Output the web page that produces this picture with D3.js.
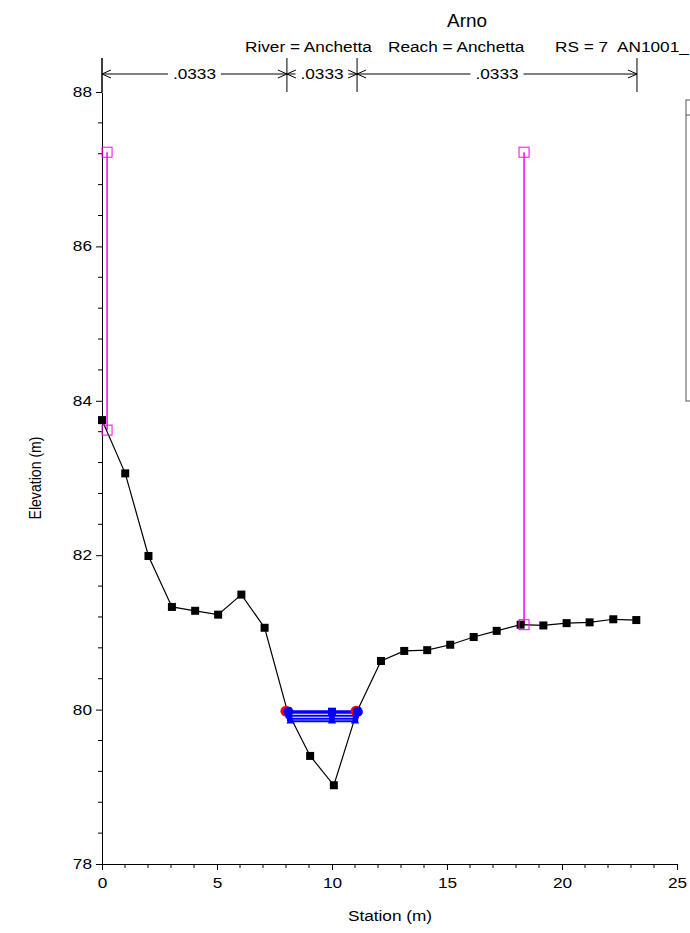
<!DOCTYPE html>
<html><head><meta charset="utf-8">
<script src="https://cdn.jsdelivr.net/npm/d3@7"></script>
<style>body{margin:0;background:#fff}svg{display:block;font-family:"Liberation Sans",Arial,sans-serif}</style>
</head><body>
<script>
const title = "Arno";
const subtitleParts = ["River = Anchetta", "Reach = Anchetta", "RS = 7", "AN1001_"];
const groundX = [0, 1.01, 2.02, 3.04, 4.05, 5.05, 6.06, 7.07, 8.06, 9.05, 10.08, 11.09, 12.13, 13.14, 14.14, 15.14, 16.16, 17.16, 18.2, 19.19, 20.2, 21.2, 22.23, 23.23];
const groundY = [83.75, 83.06, 81.99, 81.33, 81.28, 81.23, 81.49, 81.06, 79.98, 79.40, 79.02, 79.98, 80.63, 80.76, 80.77, 80.84, 80.94, 81.02, 81.10, 81.09, 81.12, 81.13, 81.17, 81.16];
const leveeX = [0.22, 18.35];
const leveeTop = [87.22, 87.22];
const leveeBottom = [83.62, 81.10];
const nBreaks = [0, 8.04, 11.09, 23.26];
const nValues = [".0333", ".0333", ".0333"];
const wsLevels = [79.98, 79.96, 79.92, 79.88, 79.85];
const wsLeft = [8.04, 8.06, 8.1, 8.16, 8.2];
const wsRight = [11.09, 11.08, 11.05, 11.02, 11.0];
const wsMid = [10.0, 10.0, 10.0, 10.0, 10.0];
const xTicks = [0, 5, 10, 15, 20, 25];
const yTicks = [78, 80, 82, 84, 86, 88];

const W = 690, H = 933, SX = 1.23;
const svg = d3.select("body").append("svg").attr("width", W).attr("height", H);
const x = d3.scaleLinear().domain([0, 25]).range([102, 677]);
const y = d3.scaleLinear().domain([78, 88]).range([864, 92]);

function htext(px, py, str, size, anchor, sx) {
  svg.append("text").attr("transform", `translate(${px},${py}) scale(${sx || SX},1)`)
    .attr("text-anchor", anchor || "start").attr("font-size", size).text(str);
}

// titles
htext(467, 27, title, 17.5, "middle", 1.08);
const subX = [245, 388, 555, 617];
subtitleParts.forEach((s, i) => htext(subX[i], 52, s, 14, "start"));

// axes
const yAxis = d3.axisLeft(y).tickValues(yTicks).tickFormat(d3.format("d")).tickSize(6).tickSizeOuter(0);
const gy = svg.append("g").attr("transform", "translate(102,0)").call(yAxis);
const yMinor = d3.range(78, 88.001, 0.4).filter(v => Math.abs(v / 2 - Math.round(v / 2)) > 0.01);
gy.selectAll(".minor").data(yMinor).enter().append("line").attr("class", "minor")
  .attr("x1", -4).attr("x2", 0).attr("y1", d => y(d)).attr("y2", d => y(d)).attr("stroke", "#000");
const xAxis = d3.axisBottom(x).tickValues(xTicks).tickFormat(d3.format("d")).tickSize(6).tickSizeOuter(0);
const gx = svg.append("g").attr("transform", "translate(0,864)").call(xAxis);
const xMinor = d3.range(0, 25.001, 1).filter(v => v % 5 !== 0);
gx.selectAll(".minor").data(xMinor).enter().append("line").attr("class", "minor")
  .attr("y1", 0).attr("y2", 4).attr("x1", d => x(d)).attr("x2", d => x(d)).attr("stroke", "#000");
[gx, gy].forEach(g => {
  g.selectAll("text").attr("font-size", 14).attr("font-family", "Liberation Sans, Arial, sans-serif").attr("fill", "#000");
  g.selectAll("path,line").attr("stroke", "#000");
});
gx.selectAll(".tick text").attr("y", 0).attr("dy", 0).attr("transform", `translate(0,24) scale(${SX},1)`);
gy.selectAll(".tick text").attr("x", 0).attr("transform", `translate(-10,0) scale(${SX},1)`);
svg.append("line").attr("x1", 102).attr("x2", 102).attr("y1", 58).attr("y2", 92).attr("stroke", "#000");

htext(390, 921, "Station (m)", 14, "middle");
svg.append("text").attr("transform", "translate(41,478) rotate(-90) scale(0.83,1)").attr("text-anchor", "middle").attr("font-size", 17).text("Elevation (m)");

// Manning n arrows
const ay = 74;
nBreaks.forEach(b => svg.append("line").attr("x1", x(b)).attr("x2", x(b)).attr("y1", 58).attr("y2", 92).attr("stroke", "#000"));
function arrowHead(px, dir) {
  svg.append("path").attr("d", `M${px - dir * 9},${ay - 4}L${px},${ay}L${px - dir * 9},${ay + 4}`)
    .attr("fill", "none").attr("stroke", "#000");
}
nValues.forEach((v, i) => {
  const x0 = x(nBreaks[i]), x1 = x(nBreaks[i + 1]), xm = (x0 + x1) / 2;
  const tw = 43;
  svg.append("line").attr("x1", x0).attr("x2", xm - tw / 2 - 5).attr("y1", ay).attr("y2", ay).attr("stroke", "#000");
  svg.append("line").attr("x1", xm + tw / 2 + 5).attr("x2", x1).attr("y1", ay).attr("y2", ay).attr("stroke", "#000");
  arrowHead(x0, -1); arrowHead(x1, 1);
  htext(xm, ay + 5, v, 14, "middle");
});

// legend box (clipped)
svg.append("rect").attr("x", 686).attr("y", 100).attr("width", 20).attr("height", 301).attr("fill", "none").attr("stroke", "#555");
svg.append("line").attr("x1", 686).attr("x2", 700).attr("y1", 115).attr("y2", 115).attr("stroke", "#555");

// levees
leveeX.forEach((lx, i) => {
  svg.append("line").attr("x1", x(lx)).attr("x2", x(lx)).attr("y1", y(leveeTop[i])).attr("y2", y(leveeBottom[i])).attr("stroke", "#ff00ff").attr("stroke-width", 1.5);
});

// ground
const ground = groundX.map((gxv, i) => [gxv, groundY[i]]);
svg.append("path").datum(ground).attr("d", d3.line().x(d => x(d[0])).y(d => y(d[1])))
  .attr("fill", "none").attr("stroke", "#000").attr("stroke-width", 1.2);
svg.selectAll(".gp").data(ground).enter().append("rect").attr("class", "gp")
  .attr("x", d => x(d[0]) - 4).attr("y", d => y(d[1]) - 4).attr("width", 8).attr("height", 8).attr("fill", "#000");

// levee markers
leveeX.forEach((lx, i) => {
  [leveeTop[i], leveeBottom[i]].forEach(v => {
    svg.append("rect").attr("x", x(lx) - 5).attr("y", y(v) - 5).attr("width", 10).attr("height", 10)
      .attr("fill", "none").attr("stroke", "#ff00ff").attr("stroke-width", 1);
  });
});

// water surfaces
wsLevels.forEach((lv, i) => {
  svg.append("line").attr("x1", x(wsLeft[i])).attr("x2", x(wsRight[i])).attr("y1", y(lv)).attr("y2", y(lv))
    .attr("stroke", "#0000ff").attr("stroke-width", 2);
});
wsLevels.forEach((lv, i) => {
  const pts = [wsLeft[i], wsMid[i], wsRight[i]];
  pts.forEach((px, j) => {
    const cx = x(px), cy = y(lv);
    if (i === 0) {
      if (j !== 1) svg.append("circle").attr("cx", cx - 1).attr("cy", cy).attr("r", 5.5).attr("fill", "#ff0000");
    } else if (i === 1) {
      if (j === 1) svg.append("rect").attr("x", cx - 4).attr("y", cy - 5).attr("width", 8).attr("height", 8).attr("fill", "#0000ff");
      else svg.append("circle").attr("cx", cx + 1).attr("cy", cy - 1).attr("r", 5).attr("fill", "#0000ff");
    } else {
      svg.append("path").attr("d", d3.symbol(i === 4 ? d3.symbolTriangle : d3.symbolSquare, 30)()).attr("transform", `translate(${cx},${cy})`).attr("fill", "#0000ff");
    }
  });
});
</script>
</body></html>
